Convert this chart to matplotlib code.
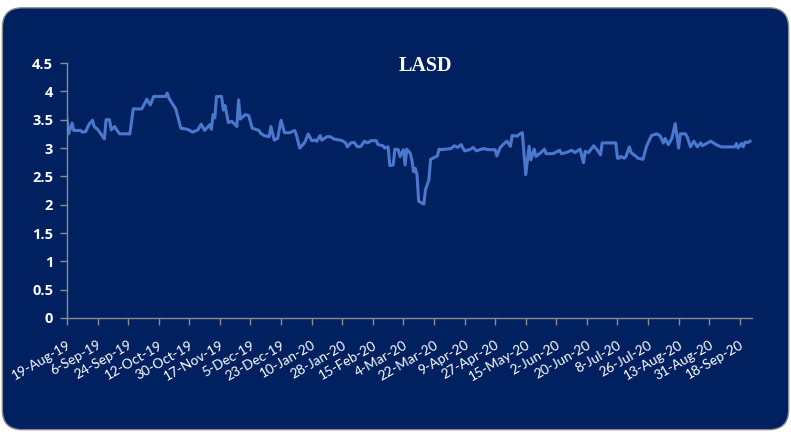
import numpy as np
import matplotlib
matplotlib.use('Agg')
import matplotlib.pyplot as plt
import matplotlib.dates as mdates
from matplotlib.patches import FancyBboxPatch

# LASD series: days after 19-Aug-2019 and value
start = np.datetime64('2019-08-19')
day_offset = [0, 1, 3, 4, 8, 9, 11, 13, 15, 16, 18, 19, 22, 23, 25, 26, 28, 29, 31, 37,
              39, 44, 47, 49, 51, 58, 59, 60, 64, 67, 71, 74, 77, 79, 81, 84, 85, 86, 87, 88,
              91, 92, 93, 95, 97, 99, 100, 101, 102, 105, 107, 109, 113, 114, 116, 119, 120, 122, 124, 126,
              128, 131, 134, 135, 137, 140, 142, 144, 146, 147, 149, 150, 153, 155, 157, 162, 164, 165, 167, 169,
              171, 173, 175, 177, 179, 182, 183, 186, 187, 189, 190, 192, 193, 195, 196, 198, 199, 200, 202, 203,
              204, 205, 206, 207, 210, 211, 213, 214, 218, 219, 220, 226, 228, 230, 232, 234, 237, 239, 241, 245,
              248, 252, 253, 255, 258, 259, 261, 262, 265, 267, 268, 270, 272, 273, 275, 276, 279, 281, 282, 286,
              290, 291, 294, 297, 299, 302, 304, 305, 307, 310, 312, 314, 315, 323, 324, 325, 326, 328, 329, 331,
              332, 335, 336, 339, 341, 344, 347, 349, 351, 352, 354, 356, 358, 360, 361, 364, 365, 367, 369, 371,
              373, 374, 377, 379, 382, 385, 393, 394, 395, 397, 398, 399, 401, 402]
lasd = [3.51, 3.25, 3.44, 3.31, 3.31, 3.28, 3.29, 3.42, 3.49, 3.38, 3.33, 3.29, 3.16, 3.50, 3.50, 3.32, 3.38, 3.33, 3.25, 3.25,
        3.69, 3.69, 3.86, 3.76, 3.91, 3.91, 3.97, 3.88, 3.69, 3.35, 3.33, 3.28, 3.32, 3.42, 3.31, 3.41, 3.33, 3.59, 3.53, 3.91,
        3.91, 3.67, 3.75, 3.45, 3.47, 3.41, 3.38, 3.85, 3.51, 3.59, 3.57, 3.35, 3.31, 3.26, 3.22, 3.20, 3.38, 3.14, 3.17, 3.49,
        3.27, 3.27, 3.31, 3.23, 3.00, 3.10, 3.25, 3.13, 3.14, 3.12, 3.22, 3.14, 3.20, 3.20, 3.16, 3.13, 3.09, 3.02, 3.09, 3.10,
        3.02, 3.03, 3.12, 3.09, 3.13, 3.13, 3.06, 3.04, 3.00, 3.02, 2.69, 2.70, 2.98, 2.97, 2.85, 2.97, 2.70, 2.98, 2.91, 2.79,
        2.58, 2.64, 2.53, 2.06, 2.01, 2.26, 2.44, 2.80, 2.86, 2.98, 2.97, 2.99, 3.04, 3.01, 3.06, 2.95, 2.97, 3.01, 2.95, 2.99,
        2.97, 2.97, 2.86, 3.01, 3.10, 3.12, 3.03, 3.22, 3.21, 3.26, 3.27, 2.53, 3.03, 2.79, 2.98, 2.85, 2.92, 2.98, 2.90, 2.90,
        2.96, 2.90, 2.92, 2.96, 2.92, 2.98, 2.74, 2.94, 2.92, 3.04, 2.97, 2.88, 3.09, 3.09, 2.82, 2.82, 2.85, 2.82, 2.85, 3.02,
        2.92, 2.85, 2.82, 2.80, 3.02, 3.22, 3.25, 3.22, 3.09, 3.17, 3.06, 3.17, 3.43, 3.00, 3.25, 3.25, 3.20, 3.02, 3.12, 3.02,
        3.09, 3.04, 3.09, 3.12, 3.06, 3.02, 3.02, 3.08, 3.00, 3.08, 3.02, 3.10, 3.10, 3.12]
tick_dates = np.arange(start, np.datetime64('2020-09-19'), 18)

dates = start + np.array(day_offset).astype('timedelta64[D]')

navy = '#002060'
fig = plt.figure(figsize=(7.91, 4.34), dpi=100)
fig.patch.set_facecolor('white')
frame = FancyBboxPatch((0.003, 0.01), 0.994, 0.972, boxstyle='round,pad=0,rounding_size=0.025',
                       transform=fig.transFigure, facecolor=navy, edgecolor='#8c8c8c', lw=1.0,
                       mutation_aspect=791 / 434, zorder=-5)
fig.patches.append(frame)

ax = fig.add_axes([0.0847, 0.2673, 0.8656, 0.5875])
ax.set_facecolor(navy)
ax.plot(dates, lasd, color='#4a78cc', lw=2.2, solid_joinstyle='round')

ax.set_ylim(0, 4.5)
ax.set_yticks(np.arange(0, 4.51, 0.5))
ax.set_yticklabels(['0', '0.5', '1', '1.5', '2', '2.5', '3', '3.5', '4', '4.5'])
ax.set_xlim(start, np.datetime64('2020-09-25'))
ax.set_xticks(tick_dates)
ax.xaxis.set_major_formatter(mdates.DateFormatter('%-d-%b-%y'))

for s in ['top', 'right']:
    ax.spines[s].set_visible(False)
for s in ['left', 'bottom']:
    ax.spines[s].set_color('#8c8c8c')
    ax.spines[s].set_linewidth(1.0)
ax.tick_params(colors='#8c8c8c', length=5, width=1.0)
ax.tick_params(axis='x', pad=10)
ax.tick_params(axis='y', pad=5)
for lab in ax.get_yticklabels():
    lab.set_color('white')
    lab.set_fontweight('bold')
    lab.set_fontsize(10.5)
    lab.set_family('Open Sans')
for lab in ax.get_xticklabels():
    lab.set_color('white')
    lab.set_fontsize(9.8)
    lab.set_family('Lato')
    lab.set_rotation(30)
    lab.set_ha('right')
    lab.set_rotation_mode('anchor')

fig.text(0.538, 0.848, 'LASD', color='white', fontsize=14.5, fontweight='bold',
         family='Liberation Serif', ha='center', va='center')

fig.savefig('out.png', dpi=100, facecolor='white')
